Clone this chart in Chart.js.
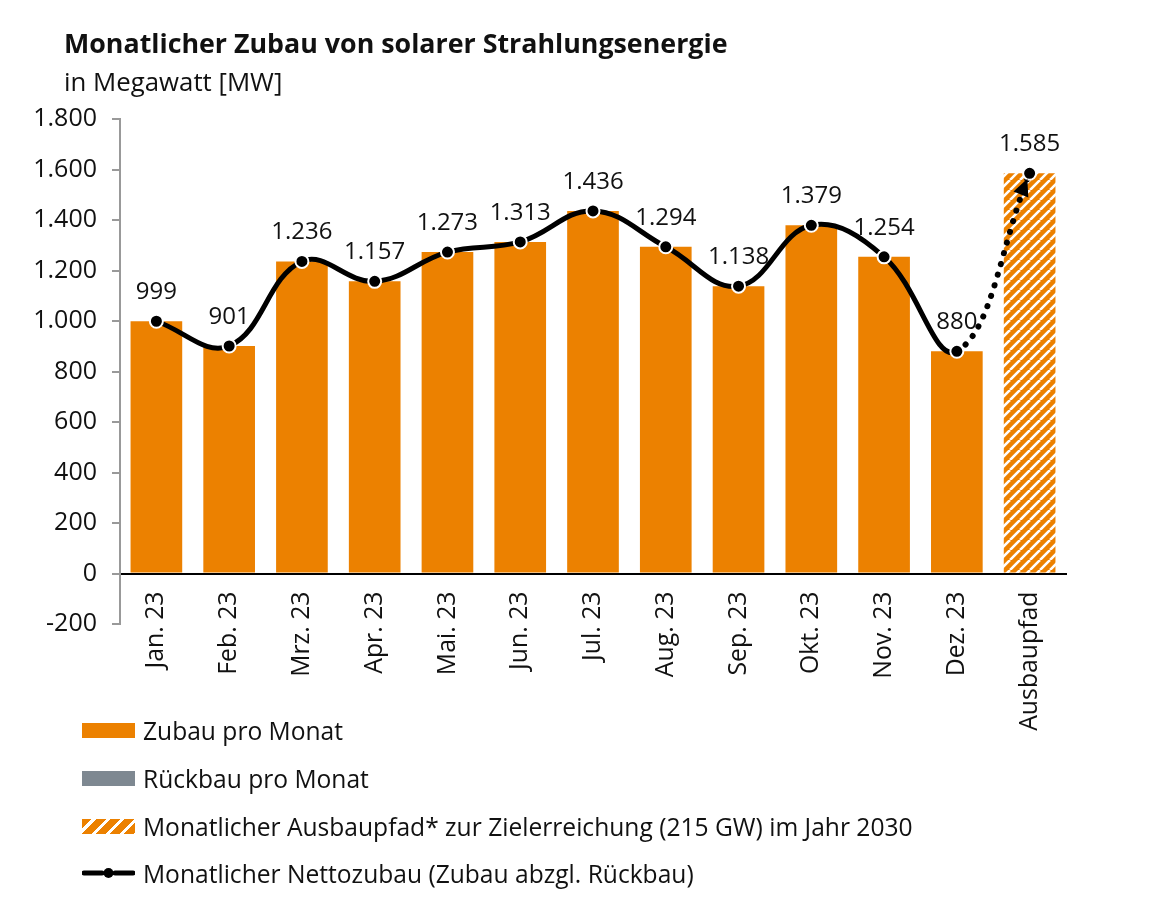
<!DOCTYPE html>
<html><head><meta charset="utf-8">
<script src="https://cdn.jsdelivr.net/npm/chart.js@4/dist/chart.umd.min.js"></script>
<style>
html,body{margin:0;padding:0;background:#fff;}
body{width:1170px;height:918px;position:relative;overflow:hidden;font-family:"Open Sans",sans-serif;color:#111;}
#wrap{position:absolute;left:0;top:0;width:1170px;height:918px;}
#title{position:absolute;left:64px;top:24px;font-size:26.8px;font-weight:bold;white-space:nowrap;}
#sub{position:absolute;left:64px;top:63px;font-size:25.8px;white-space:nowrap;}
.leg{position:absolute;left:82px;height:30px;display:flex;align-items:center;font-size:24.6px;white-space:nowrap;}
.sw{width:53px;height:15px;margin-right:8px;}
</style></head>
<body>
<div id="wrap"><canvas id="c" width="1170" height="918"></canvas></div>
<div id="title">Monatlicher Zubau von solarer Strahlungsenergie</div>
<div id="sub">in Megawatt [MW]</div>
<div class="leg" style="top:715px"><div class="sw" style="background:#EC8100"></div>Zubau pro Monat</div>
<div class="leg" style="top:763px"><div class="sw" style="background:#7E8891"></div>Rückbau pro Monat</div>
<div class="leg" style="top:811px"><div class="sw" style="background:repeating-linear-gradient(135deg,#EC8100 0 7px,#fff 7px 10px)"></div>Monatlicher Ausbaupfad* zur Zielerreichung (215 GW) im Jahr 2030</div>
<div class="leg" style="top:858px"><svg class="sw" style="height:16px" width="53" height="16" viewBox="0 0 53 16"><line x1="2" y1="8" x2="20" y2="8" stroke="#000" stroke-width="5" stroke-linecap="round"/><line x1="33" y1="8" x2="51" y2="8" stroke="#000" stroke-width="5" stroke-linecap="round"/><circle cx="26.5" cy="8" r="5" fill="#000"/></svg>Monatlicher Nettozubau (Zubau abzgl. Rückbau)</div>
<script>
const categories = ["Jan. 23","Feb. 23","Mrz. 23","Apr. 23","Mai. 23","Jun. 23","Jul. 23","Aug. 23","Sep. 23","Okt. 23","Nov. 23","Dez. 23","Ausbaupfad"];
const zubau = [999,901,1236,1157,1273,1313,1436,1294,1138,1379,1254,880,null];
const rueckbau = [0,0,0,0,0,0,0,0,0,0,0,0,null];
const ausbaupfad = [null,null,null,null,null,null,null,null,null,null,null,null,1585];
const netto = [999,901,1236,1157,1273,1313,1436,1294,1138,1379,1254,880,1585];
const yTicks = [-200,0,200,400,600,800,1000,1200,1400,1600,1800];

const ORANGE = '#EC8100';
const FONT = '"Open Sans", sans-serif';
const fmt = v => v.toLocaleString('de-DE');

function hatch(){
  const p = document.createElement('canvas');
  p.width = 10; p.height = 10;
  const g = p.getContext('2d');
  g.fillStyle = ORANGE; g.fillRect(0,0,10,10);
  g.strokeStyle = '#fff'; g.lineWidth = 2.6;
  g.beginPath();
  for (let k=-10;k<=20;k+=10){ g.moveTo(k,10); g.lineTo(k+10,0); }
  g.stroke();
  return g.createPattern(p,'repeat');
}

const labelPlugin = {
  id:'labels',
  afterDatasetsDraw(chart){
    const ctx = chart.ctx;
    const meta = chart.getDatasetMeta(3);
    const pts = meta.data;
    const last = pts[pts.length-1];
    const dx = last.x - last.cp1x, dy = last.y - last.cp1y;
    const len = Math.hypot(dx,dy) || 1;
    const ux = dx/len, uy = dy/len;
    const tipx = last.x - ux*6, tipy = last.y - uy*6;
    const bx = tipx - ux*17, by = tipy - uy*17;
    ctx.save();
    ctx.fillStyle = '#000';
    ctx.beginPath();
    ctx.moveTo(tipx,tipy);
    ctx.lineTo(bx - uy*8, by + ux*8);
    ctx.lineTo(bx + uy*8, by - ux*8);
    ctx.closePath(); ctx.fill();
    ctx.font = '24px ' + FONT;
    ctx.fillStyle = '#111';
    ctx.textAlign = 'center'; ctx.textBaseline = 'middle';
    pts.forEach((p,i)=>{ ctx.fillText(fmt(netto[i]), p.x, p.y - 29); });
    ctx.restore();
  }
};

new Chart(document.getElementById('c'), {
  data:{
    labels: categories,
    datasets:[
      {type:'bar', label:'Zubau pro Monat', data:zubau, backgroundColor:ORANGE, grouped:false, barPercentage:0.71, categoryPercentage:1, order:3},
      {type:'bar', label:'Rückbau pro Monat', data:rueckbau, backgroundColor:'#7E8891', grouped:false, barPercentage:0.71, categoryPercentage:1, order:2},
      {type:'bar', label:'Monatlicher Ausbaupfad', data:ausbaupfad, backgroundColor:hatch(), grouped:false, barPercentage:0.71, categoryPercentage:1, order:1},
      {type:'line', label:'Monatlicher Nettozubau', data:netto, borderColor:'#000', borderWidth:5, tension:0.4, cubicInterpolationMode:'default',
       borderCapStyle:'round', pointRadius:6.5, pointBackgroundColor:'#000', pointBorderColor:'#fff', pointBorderWidth:2, order:0,
       segment:{ borderDash: c => c.p1DataIndex === 12 ? [0.1, 11] : undefined, borderWidth: c => c.p1DataIndex === 12 ? 6 : undefined }}
    ]
  },
  options:{
    responsive:false, animation:false, devicePixelRatio:1,
    layout:{padding:{left:0,top:119,right:104,bottom:294}},
    plugins:{legend:{display:false}, tooltip:{enabled:false}},
    scales:{
      x:{position:{y:0}, grid:{display:false}, border:{color:'#000', width:2},
         ticks:{maxRotation:90, minRotation:90, padding:10, color:'#111', font:{family:'Open Sans', size:24.8}}},
      y:{min:-200, max:1800, afterFit:s=>{s.width=120;},
         afterBuildTicks:s=>{s.ticks = yTicks.map(v=>({value:v}));},
         grid:{drawOnChartArea:false, drawTicks:true, tickLength:8, color:'#999', lineWidth:2},
         border:{color:'#999', width:2},
         ticks:{padding:15, color:'#111', font:{family:'Open Sans', size:25}, callback:v=>fmt(v)}}
    }
  },
  plugins:[labelPlugin]
});
</script>
</body></html>
